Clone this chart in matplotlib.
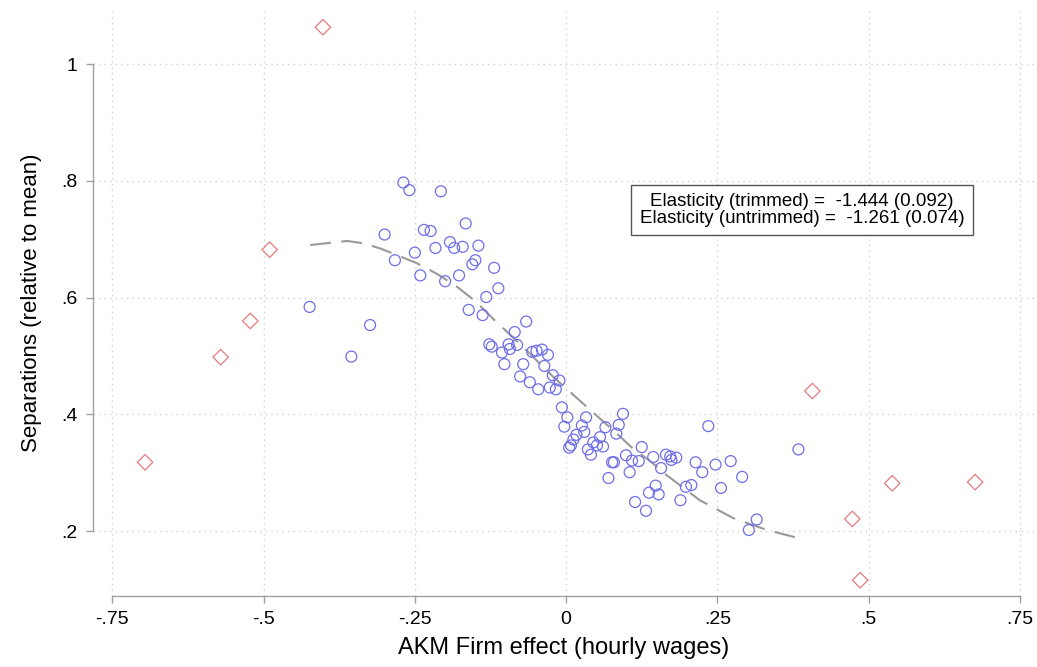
import matplotlib
matplotlib.use("Agg")
import matplotlib.pyplot as plt

plt.rcParams['font.family'] = ['Liberation Sans', 'DejaVu Sans']

# binned firm effects kept in the sample (blue circles)
kept_x = [-0.269, -0.259, -0.207, -0.166, -0.235, -0.224, -0.300, -0.192, -0.185, -0.171,
          -0.216, -0.145, -0.250, -0.283, -0.150, -0.155, -0.119, -0.241, -0.177, -0.200,
          -0.112, -0.132, -0.424, -0.161, -0.138, -0.324, -0.355, -0.085, -0.127, -0.123,
          -0.106, -0.095, -0.093, -0.081, -0.102, -0.066, -0.056, -0.049, -0.040, -0.030,
          -0.071, -0.036, -0.076, -0.022, -0.060, -0.046, -0.027, -0.017, -0.011, -0.007,
          0.002, -0.003, 0.033, 0.026, 0.030, 0.017, 0.012, 0.008, 0.005, 0.094,
          0.087, 0.065, 0.083, 0.056, 0.045, 0.051, 0.061, 0.036, 0.041, 0.099,
          0.125, 0.109, 0.120, 0.076, 0.079, 0.144, 0.105, 0.070, 0.148, 0.137,
          0.114, 0.132, 0.235, 0.384, 0.157, 0.165, 0.174, 0.182, 0.172, 0.214,
          0.225, 0.247, 0.272, 0.291, 0.256, 0.153, 0.189, 0.198, 0.207, 0.315,
          0.302]
kept_y = [0.797, 0.784, 0.782, 0.727, 0.716, 0.714, 0.708, 0.695, 0.685, 0.687,
          0.685, 0.689, 0.677, 0.664, 0.664, 0.657, 0.651, 0.638, 0.638, 0.628,
          0.616, 0.601, 0.584, 0.579, 0.570, 0.553, 0.499, 0.541, 0.520, 0.516,
          0.506, 0.520, 0.512, 0.519, 0.486, 0.559, 0.507, 0.509, 0.511, 0.502,
          0.486, 0.483, 0.465, 0.467, 0.455, 0.443, 0.446, 0.443, 0.458, 0.412,
          0.395, 0.379, 0.395, 0.381, 0.370, 0.365, 0.357, 0.347, 0.343, 0.401,
          0.382, 0.378, 0.367, 0.361, 0.352, 0.347, 0.345, 0.340, 0.331, 0.330,
          0.344, 0.321, 0.320, 0.318, 0.318, 0.327, 0.301, 0.291, 0.278, 0.266,
          0.250, 0.235, 0.380, 0.340, 0.308, 0.331, 0.322, 0.326, 0.328, 0.318,
          0.301, 0.314, 0.320, 0.293, 0.274, 0.263, 0.253, 0.276, 0.279, 0.220,
          0.202]

# trimmed bins (red diamonds)
trim_x = [-0.402, -0.490, -0.522, -0.571, -0.696, 0.407, 0.473, 0.486, 0.539, 0.676]
trim_y = [1.063, 0.682, 0.560, 0.498, 0.318, 0.440, 0.221, 0.116, 0.282, 0.284]

# fitted curve (dashed)
fit_x = [-0.423, -0.362, -0.335, -0.307, -0.280, -0.247, -0.214, -0.181, -0.150,
         -0.120, -0.090, -0.060, -0.021, 0.034, 0.084, 0.111, 0.139, 0.166, 0.221,
         0.277, 0.332, 0.381]
fit_y = [0.690, 0.697, 0.693, 0.684, 0.673, 0.659, 0.641, 0.619, 0.594,
         0.563, 0.534, 0.504, 0.464, 0.413, 0.367, 0.341, 0.320, 0.296, 0.253,
         0.222, 0.202, 0.189]

xticks = [-0.75, -0.5, -0.25, 0, 0.25, 0.5, 0.75]
xticklabels = ['-.75', '-.5', '-.25', '0', '.25', '.5', '.75']
yticks = [0.2, 0.4, 0.6, 0.8, 1.0]
yticklabels = ['.2', '.4', '.6', '.8', '1']

note = "Elasticity (trimmed) =  -1.444 (0.092)\nElasticity (untrimmed) =  -1.261 (0.074)"

fig = plt.figure(figsize=(10.37, 6.67), dpi=100)
ax = fig.add_axes([93 / 1037, 71 / 667, 942 / 1037, 586 / 667])

ax.plot(fit_x, fit_y, color='#999999', lw=1.5, dashes=(10, 5), zorder=2)
ax.scatter(kept_x, kept_y, s=62, facecolors='none', edgecolors='#6e6ee8', linewidths=0.9, zorder=3)
ax.scatter(trim_x, trim_y, s=62, marker='D', facecolors='none', edgecolors='#e57b7b', linewidths=0.9, zorder=3)

ax.set_xlim(-0.782, 0.775)
ax.set_ylim(0.089, 1.0925)

ax.set_xticks(xticks)
ax.set_xticklabels(xticklabels)
ax.set_yticks(yticks)
ax.set_yticklabels(yticklabels)
ax.tick_params(axis='both', direction='out', length=5, width=1, color='#a0a0a0', labelsize=14, pad=6)

ax.grid(True, linestyle=(0, (1, 3)), color='#d0d0d0', lw=1)
ax.set_axisbelow(True)

for s in ['top', 'right']:
    ax.spines[s].set_visible(False)
ax.spines['left'].set_bounds(0.2, 1.0)
ax.spines['bottom'].set_bounds(-0.75, 0.75)
for s in ['left', 'bottom']:
    ax.spines[s].set_color('#a0a0a0')
    ax.spines[s].set_linewidth(1)

ax.set_xlabel('AKM Firm effect (hourly wages)', fontsize=17, labelpad=6)
ax.set_ylabel('Separations (relative to mean)', fontsize=16, labelpad=14)

ax.text(0.390, 0.750, note, ha='center', va='center', multialignment='center', fontsize=13.5,
        linespacing=1.0,
        bbox=dict(boxstyle='square,pad=0.45', facecolor='white', edgecolor='#555555', lw=1))

fig.savefig('out.png', dpi=100)
